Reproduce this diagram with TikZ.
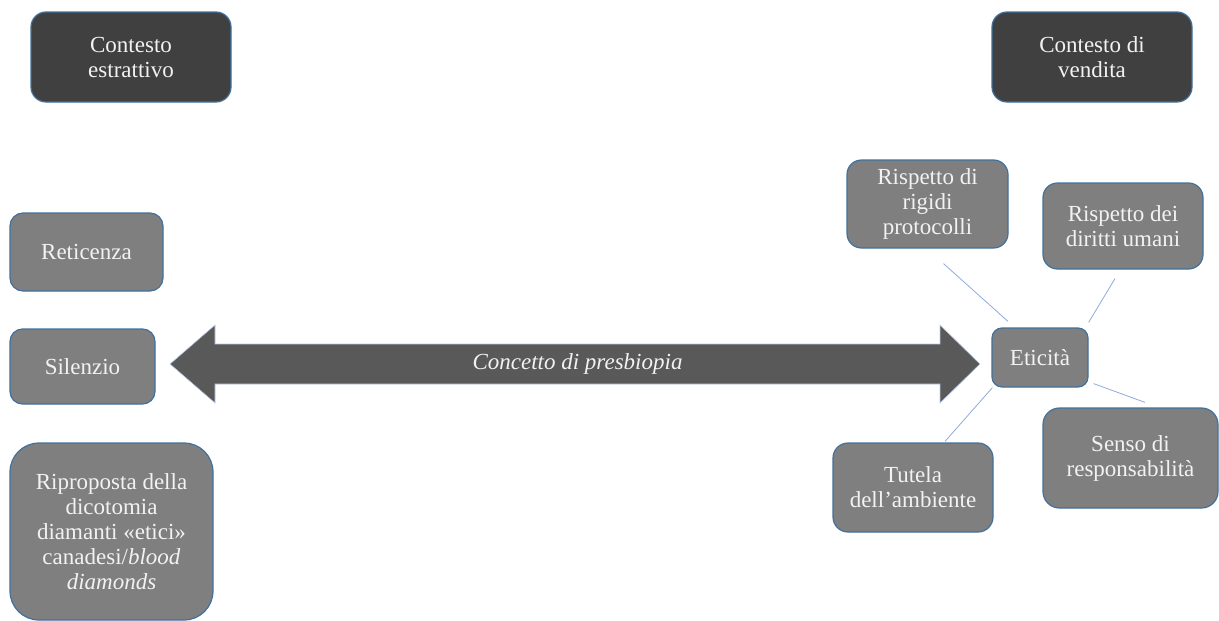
\documentclass[tikz,border=0pt]{standalone}
\usepackage{fontspec}
\setmainfont{Liberation Serif}
\usetikzlibrary{calc}
\definecolor{darkbox}{HTML}{404040}
\definecolor{greybox}{HTML}{7F7F7F}
\definecolor{arrowfill}{HTML}{595959}
\definecolor{boxborder}{HTML}{41719C}
\definecolor{connblue}{HTML}{8FAADC}
\definecolor{txt}{HTML}{F2F2F2}
\begin{document}
\begin{tikzpicture}[x=1pt,y=-1pt,
  box/.style={draw=boxborder, line width=1.2pt, text=txt, align=center, inner sep=2pt,
    font=\fontsize{23}{25}\selectfont},
  darkb/.style={box, fill=darkbox},
  greyb/.style={box, fill=greybox},
  conn/.style={draw=connblue, line width=0.8pt}]
\useasboundingbox (0,0) rectangle (1219,621);

% top context boxes
\node[darkb, minimum width=200pt, minimum height=90pt, rounded corners=15pt] (ce) at (131,57) {Contesto\\estrattivo};
\node[darkb, minimum width=200pt, minimum height=90pt, rounded corners=15pt] (cv) at (1092,57) {Contesto di\\vendita};

% left boxes
\node[greyb, minimum width=153pt, minimum height=78pt, rounded corners=13pt] (ret) at (86.5,252) {Reticenza};
\node[greyb, minimum width=145pt, minimum height=75pt, rounded corners=12.5pt] (sil) at (82.5,366.5) {Silenzio};
\node[greyb, minimum width=203pt, minimum height=177pt, rounded corners=29pt] (rip) at (111.5,531.5)
  {Riproposta della\\dicotomia\\diamanti «etici»\\canadesi/\textit{blood}\\\textit{diamonds}};

% double arrow
\fill[arrowfill, draw=connblue!60, line width=0.6pt]
  (170,364) -- (215,325) -- (215,344) -- (940,344) -- (940,325) -- (980,364)
  -- (940,403) -- (940,384) -- (215,384) -- (215,403) -- cycle;
\node[text=txt, font=\fontsize{23}{25}\selectfont\itshape] (pres) at (577.5,364) {Concetto di presbiopia};

% right cluster
\node[greyb, minimum width=96pt, minimum height=59pt, rounded corners=10pt] (etic) at (1040,357.5) {Eticità};
\node[greyb, minimum width=161pt, minimum height=88pt, rounded corners=14.5pt] (prot) at (927.5,204) {Rispetto di\\rigidi\\protocolli};
\node[greyb, minimum width=160pt, minimum height=86pt, rounded corners=14.5pt] (dir) at (1123,226) {Rispetto dei\\diritti umani};
\node[greyb, minimum width=160pt, minimum height=89pt, rounded corners=15pt] (tut) at (913,487.5) {Tutela\\dell’ambiente};
\node[greyb, minimum width=175pt, minimum height=100pt, rounded corners=16.5pt] (senso) at (1130.5,458) {Senso di\\responsabilità};

% connectors
\draw[conn] ($(prot.south)+(16,15)$) -- ($(etic.north)+(-32,-6)$);
\draw[conn] ($(dir.south)+(-8,9)$) -- ($(etic.north east)+(0,-5)$);
\draw[conn] ($(etic.south west)+(1,0)$) -- ($(tut.north)+(32,-1)$);
\draw[conn] ($(etic.south east)+(5,-4)$) -- ($(senso.north)+(14.5,-5)$);
\end{tikzpicture}
\end{document}
